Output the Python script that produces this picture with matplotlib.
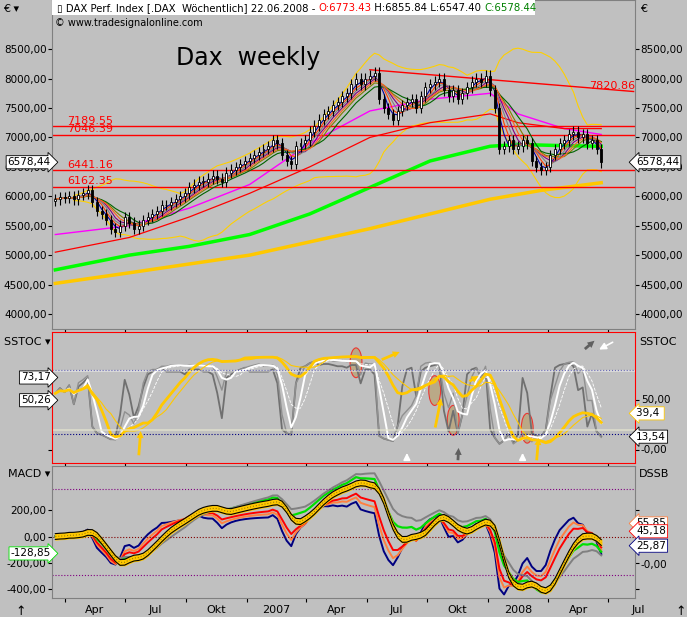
import numpy as np
import pandas as pd
import matplotlib
matplotlib.use("Agg")
import matplotlib.pyplot as plt
import matplotlib.dates as mdates
from matplotlib.patches import Ellipse, Rectangle

# weekly closes, 17.03.2006 .. 20.06.2008
closes = [5950, 5980, 5970,
          6000, 5950, 6020, 6050, 6100, 5900, 5750, 5700,
          5600, 5450, 5400, 5500, 5650, 5550, 5450, 5500, 5600,
          5650, 5700, 5750, 5850, 5850, 5900, 5950, 6000, 6050,
          6150, 6200, 6250, 6250, 6300, 6350, 6300, 6250,
          6400, 6450, 6500, 6550, 6600,
          6650, 6700, 6750, 6800, 6850, 6950, 6900, 6700,
          6600, 6550, 6850, 6900, 6950, 7100, 7200, 7300, 7400,
          7450, 7550, 7600, 7700, 7750, 7900, 8000, 7900, 8000,
          8050, 8100, 7650, 7500, 7400, 7300, 7450, 7550, 7600,
          7650, 7500, 7700, 7850, 7900, 7950, 8000, 7800,
          7700, 7800, 7650, 7750, 7850, 7950, 8000, 7950, 8050,
          7800, 7500, 6800, 6850, 6950, 6800, 6850, 6950, 6900,
          6600, 6500, 6450, 6500, 6700, 6800, 6900, 6950,
          7050, 7100, 7000, 7050, 6900, 6950, 6800, 6578]
wick = 90

# long moving averages (week index, value)
green_idx = [0, 16, 29, 42, 55, 68, 81, 94, 100, 110, 118]
green_val = [4750, 5000, 5150, 5350, 5700, 6150, 6600, 6850, 6880, 6860, 6850]
gold_idx = [0, 16, 42, 68, 94, 105, 118]
gold_val = [4520, 4700, 5000, 5450, 5950, 6100, 6230]
red_idx = [0, 16, 29, 42, 55, 68, 81, 94, 100, 110, 118]
red_val = [5050, 5300, 5650, 6050, 6500, 7000, 7250, 7400, 7250, 7150, 7150]
mag_idx = [0, 16, 29, 42, 55, 68, 81, 94, 100, 110, 118]
mag_val = [5350, 5500, 5800, 6200, 6900, 7450, 7650, 7750, 7400, 7150, 7050]

levels = [7189.55, 7046.39, 6441.16, 6162.35]
level_labels = ["7189.55", "7046.39", "6441.16", "6162.35"]
trend_idx = [68, 125]
trend_val = [8150, 7780]

dates = pd.date_range("2006-03-17", periods=len(closes), freq="7D")
c = pd.Series(closes, index=dates, dtype=float)
o = c.shift(1).fillna(c.iloc[0] - 30)
h = np.maximum(o, c) + wick
l = np.minimum(o, c) - wick

BG = "#c0c0c0"
fig = plt.figure(figsize=(6.87, 6.17), dpi=100, facecolor=BG)
W, H = 687, 617
def ax_px(x0, y0, x1, y1):
    return fig.add_axes([x0 / W, 1 - y1 / H, (x1 - x0) / W, (y1 - y0) / H], facecolor=BG)

ax1 = ax_px(52, 0, 635, 329)
ax2 = ax_px(52, 332, 635, 463)
ax3 = ax_px(52, 466, 635, 598)

x0 = dates[0] - pd.Timedelta(days=5)
x1 = dates[0] + pd.Timedelta(days=7 * 125.3)
def wx(i):
    return dates[0] + pd.Timedelta(days=7 * i)

for ax in (ax1, ax2, ax3):
    ax.set_xlim(x0, x1)
    ax.tick_params(axis="both", labelsize=7.5, length=3, direction="out", colors="black", pad=1)
    ax.tick_params(axis="y", right=True, labelright=True)
    for s in ax.spines.values():
        s.set_color("#808080")
    ax.xaxis.set_major_locator(mdates.MonthLocator(bymonth=[1, 4, 7, 10]))
    ax.set_xticklabels([])
for s in ax2.spines.values():
    s.set_color("red")

# ---- price panel
cw = 3.0
for d, oo, cc, hh, ll in zip(dates, o, c, h, l):
    ax1.vlines(d, ll, hh, color="black", lw=0.8, zorder=4)
    ax1.add_patch(Rectangle((mdates.date2num(d) - cw / 2, min(oo, cc)), cw, max(abs(cc - oo), 8),
                            facecolor="white" if cc >= oo else "black", edgecolor="black",
                            lw=0.6, zorder=5))

short_ma = [(3, "#0000a0"), (4, "#ff4000"), (6, "#800080"), (8, "#808000"),
            (10, "#006400"), (5, "#808080"), (7, "#ff6020")]
for n, col in short_ma:
    ax1.plot(dates, c.rolling(n, min_periods=1).mean(), color=col, lw=0.8, zorder=3)
mid = c.rolling(20, min_periods=5).mean()
sd = c.rolling(20, min_periods=5).std()
ax1.plot(dates, mid + 2 * sd, color="#ffd000", lw=0.8)
ax1.plot(dates, mid - 2 * sd, color="#ffd000", lw=0.8)
ax1.plot([wx(i) for i in mag_idx], mag_val, color="#ff00ff", lw=1)
ax1.plot([wx(i) for i in red_idx], red_val, color="red", lw=0.9)
ax1.plot([wx(i) for i in green_idx], green_val, color="#00ff00", lw=2.5)
ax1.plot([wx(i) for i in gold_idx], gold_val, color="#ffc800", lw=2.5)
ax1.plot([wx(i) for i in trend_idx], trend_val, color="red", lw=1)
ax1.text(x1, 7790, "7820.86", color="red", fontsize=8, ha="right", va="bottom")
for lv, lb in zip(levels, level_labels):
    ax1.axhline(lv, color="red", lw=1)
    ax1.text(wx(2.5), lv + 8, lb, color="red", fontsize=8, va="bottom")

ax1.set_ylim(3745, 9335)
pticks = np.arange(4000, 8501, 500)
ax1.set_yticks(pticks)
ax1.set_yticklabels([f"{v:.2f}".replace(".", ",") for v in pticks])
ax1.text(wx(26), 8350, "Dax  weekly", fontsize=17, ha="left", va="center")
ax1.text(0.005, 0.945, "\u00a9 www.tradesignalonline.com", transform=ax1.transAxes, fontsize=7, va="top")

# header line with coloured parts, chained one after another
ax1.add_patch(Rectangle((0.0, 0.953), 0.828, 0.047, transform=ax1.transAxes, facecolor="white",
                        edgecolor="none", zorder=6))
hdr = [("\u25af DAX Perf. Index [.DAX  W\u00f6chentlich] 22.06.2008 - ", "black"),
       ("O:6773.43", "red"), (" H:6855.84 L:6547.40 ", "black"), ("C:6578.44", "green")]
prev = ax1.text(0.008, 0.976, hdr[0][0], transform=ax1.transAxes, fontsize=7.3, color=hdr[0][1],
                va="center", zorder=7)
for t, col in hdr[1:]:
    prev = ax1.annotate(t, xy=(1, 0.5), xycoords=prev, fontsize=7.3, color=col, va="center",
                        zorder=7)

fig.text(3 / W, 1 - 12 / H, "\u20ac \u25be", fontsize=8)
fig.text(640 / W, 1 - 12 / H, "\u20ac", fontsize=8)

def tag(ax, y, txt, side, ec="black"):
    xx = -0.002 if side == "left" else 1.002
    ax.text(xx, y, txt, transform=ax.get_yaxis_transform(), fontsize=7.5, va="center",
            ha="right" if side == "left" else "left",
            bbox=dict(boxstyle="larrow,pad=0.15" if side == "right" else "rarrow,pad=0.15",
                      facecolor="white", edgecolor=ec, lw=0.6), zorder=10, clip_on=False)
tag(ax1, 6578.44, "6578,44", "left")
tag(ax1, 6578.44, "6578,44", "right")

# ---- SSTOC
def stoch(n, smooth):
    lo = l.rolling(n, min_periods=1).min()
    hi = h.rolling(n, min_periods=1).max()
    k = 100 * (c - lo) / (hi - lo)
    return k.rolling(smooth, min_periods=1).mean()
ax2.plot(dates, stoch(5, 1), color="#707070", lw=1.3)
ax2.plot(dates, stoch(8, 1), color="#909090", lw=1)
ax2.plot(dates, stoch(8, 3), color="white", lw=1.4)
ax2.plot(dates, stoch(8, 5), color="white", lw=0.6, ls="--")
ax2.plot(dates, stoch(26, 5), color="#ffc800", lw=2)
ax2.plot(dates, stoch(30, 8), color="#ffc800", lw=0.8)
for lv in (81, 16):
    ax2.axhline(lv, color="#000080", lw=0.8, ls=":")
ax2.axhline(80, color="white", lw=1.2, alpha=0.5)
ax2.axhline(20, color="#e8e8d0", lw=1.2, alpha=0.7)
ax2.set_ylim(-13, 119)
ax2.set_yticks([0, 50])
ax2.set_yticklabels(["", ""])
ax2.text(1.01, 50, "50,00", transform=ax2.get_yaxis_transform(), fontsize=7.5, va="center")
ax2.text(1.01, 0, "-0,00", transform=ax2.get_yaxis_transform(), fontsize=7.5, va="center")
tag(ax2, 73.17, "73,17", "left")
tag(ax2, 50.26, "50,26", "left")
tag(ax2, 37, "39,4 ", "right", "#ffc800")
tag(ax2, 13.54, "13,54", "right")
for i, yy in [(65, 88), (82, 60), (86, 30), (102, 22)]:
    ax2.add_patch(Ellipse((mdates.date2num(wx(i)), yy), 18, 30, facecolor="#b8a070", alpha=0.7,
                          edgecolor="red", lw=0.8))
for (i0, y0, i1, y1, col) in [(18, -8, 18.5, 22, "#ffc800"), (82, 20, 83.5, 55, "#ffc800"),
                              (70, 90, 75, 100, "#ffc800"), (89, 68, 92, 76, "#ffc800"),
                              (87, -13, 87.2, 5, "#606060"), (114, 100, 117, 112, "#606060"),
                              (104, -13, 104.5, 15, "#ffc800")]:
    ax2.annotate("", xy=(wx(i1), y1), xytext=(wx(i0), y0),
                 arrowprops=dict(arrowstyle="simple", color=col, lw=0), annotation_clip=False)
for (i0, y0, i1, y1) in [(76, -13, 76, 0), (101, -13, 101, 0), (121, 110, 117, 100)]:
    ax2.annotate("", xy=(wx(i1), y1), xytext=(wx(i0), y0),
                 arrowprops=dict(arrowstyle="-|>", color="white", lw=1.2), annotation_clip=False)
fig.text(4 / W, 1 - 342 / H, "SSTOC \u25be", fontsize=8, va="center")
fig.text(639 / W, 1 - 342 / H, "SSTOC", fontsize=8, va="center")

# ---- MACD
def ema(s, n):
    return s.ewm(span=n, adjust=False).mean()
macd_lines = [((3, 8), "#000080", 1.4), ((4, 10), "#ff8040", 1.4), ((5, 12), "red", 1.4),
              ((8, 20), "#00e000", 1.6), ((10, 24), "#808080", 1.4)]
for (f, s_), col, lw in macd_lines:
    ax3.plot(dates, (ema(c, f) - ema(c, s_)) * 1.2, color=col, lw=lw)
band = (ema(c, 6) - ema(c, 16)) * 1.2
band = band.rolling(3, min_periods=1).mean()
ax3.fill_between(dates, band - 22, band + 22, color="#ffc800", zorder=4)
ax3.plot(dates, band - 22, color="black", lw=0.8, zorder=5)
ax3.plot(dates, band + 22, color="black", lw=0.8, zorder=5)
ax3.plot(dates, band, color="#a08000", lw=0.8, ls=":", zorder=5)
ax3.axhline(362, color="#800080", lw=0.8, ls=":")
ax3.axhline(-292, color="#800080", lw=0.8, ls=":")
ax3.axhline(0, color="#800000", lw=0.8, ls=":")
ax3.set_ylim(-469, 538)
ax3.set_yticks([-400, -200, 0, 200])
ax3.set_yticklabels(["-400,00", "-200,00", "0,00", "200,00"])
ax3.yaxis.set_tick_params(labelright=False)
ax3.text(1.01, -220, "-0,00", transform=ax3.get_yaxis_transform(), fontsize=7.5, va="center")
tag(ax3, -128.85, "-128,85", "left", "#00e000")
tag(ax3, 100, "55,85", "right", "#ff8040")
tag(ax3, 40, "45,18", "right", "red")
tag(ax3, -70, "25,87", "right", "#000080")
fig.text(8 / W, 1 - 474 / H, "MACD \u25be", fontsize=8, va="center")
fig.text(639 / W, 1 - 474 / H, "DSSB", fontsize=8, va="center")

# month labels under bottom panel
lab_dates = pd.date_range("2006-04-01", "2008-07-01", freq="QS")
for d in lab_dates:
    txt = str(d.year) if d.month == 1 else {4: "Apr", 7: "Jul", 10: "Okt"}[d.month]
    ax3.text(d + pd.Timedelta(days=45), -0.05, txt, transform=ax3.get_xaxis_transform(),
             fontsize=8, ha="center", va="top")
fig.text(15 / W, 2 / H, "\u2191", fontsize=9)
fig.text(675 / W, 2 / H, "\u2191", fontsize=9)

fig.savefig("out.png", dpi=100, facecolor=BG)
